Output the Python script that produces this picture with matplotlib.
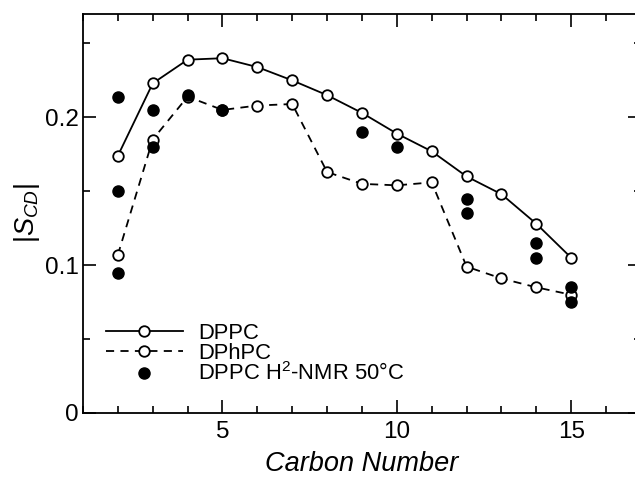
import matplotlib
matplotlib.use('Agg')
import matplotlib.pyplot as plt
from matplotlib.ticker import MultipleLocator, FormatStrFormatter

plt.rcParams['font.family'] = ['Liberation Sans', 'DejaVu Sans']
plt.rcParams['mathtext.fontset'] = 'custom'
plt.rcParams['mathtext.rm'] = 'Liberation Sans'
plt.rcParams['mathtext.it'] = 'Liberation Sans:italic'

# order parameter |S_CD| per carbon position
carbon = [2, 3, 4, 5, 6, 7, 8, 9, 10, 11, 12, 13, 14, 15]
dppc = [0.174, 0.223, 0.239, 0.240, 0.234, 0.225, 0.215, 0.203,
        0.189, 0.177, 0.160, 0.148, 0.128, 0.105]
dphpc = [0.107, 0.185, 0.214, 0.205, 0.208, 0.209, 0.163, 0.155,
         0.154, 0.156, 0.099, 0.091, 0.085, 0.080]

# deuterium NMR data, DPPC at 50 C
nmr_carbon = [2, 2, 2, 3, 3, 4, 5, 9, 10, 12, 12, 14, 14, 15, 15]
nmr_scd = [0.214, 0.150, 0.095, 0.205, 0.180, 0.215, 0.205, 0.190,
           0.180, 0.145, 0.135, 0.115, 0.105, 0.085, 0.075]

fig = plt.figure(figsize=(6.35, 4.78), dpi=100)
ax = fig.add_axes([0.1307, 0.136, 0.8787, 0.835])

ax.plot(carbon, dppc, '-', color='black', lw=1.3, marker='o', ms=7.6,
        mfc='white', mec='black', mew=1.3, label='DPPC')
ax.plot(carbon, dphpc, '--', color='black', lw=1.3, marker='o', ms=7.6,
        mfc='white', mec='black', mew=1.3, dashes=(4.5, 3.5), label='DPhPC')
ax.plot(nmr_carbon, nmr_scd, 'o', color='black', ms=8, ls='none',
        label='DPPC H$^2$-NMR 50\u00b0C')

ax.set_xlim(1, 17)
ax.set_ylim(0, 0.27)
ax.xaxis.set_major_locator(MultipleLocator(5))
ax.xaxis.set_minor_locator(MultipleLocator(1))
ax.yaxis.set_major_locator(MultipleLocator(0.1))
ax.yaxis.set_minor_locator(MultipleLocator(0.05))
ax.yaxis.set_major_formatter(FormatStrFormatter('%g'))

ax.tick_params(which='both', direction='in', top=True, right=True,
               width=1.2, labelsize=17.5)
ax.tick_params(which='major', length=9.5)
ax.tick_params(which='minor', length=5)
ax.tick_params(axis='x', which='major', pad=6)
ax.tick_params(axis='y', which='major', pad=3)
for s in ax.spines.values():
    s.set_linewidth(1.3)

ax.set_xlabel('Carbon Number', fontsize=19.5, style='italic', labelpad=5.5)
ax.set_ylabel('$|S_{CD}|$', fontsize=19.5, labelpad=2)

ax.legend(loc='upper left', bbox_to_anchor=(0.041, 0.226), frameon=False,
          fontsize=15.8, handlelength=3.5, handletextpad=0.7,
          labelspacing=-0.05, borderpad=0, borderaxespad=0)

fig.savefig('out.png', dpi=100)
